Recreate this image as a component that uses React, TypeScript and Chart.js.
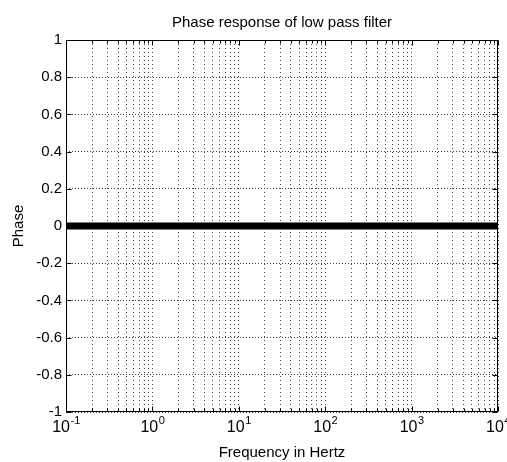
import { useEffect, useRef } from "react";
import { Chart, registerables } from "chart.js";

Chart.register(...registerables);

// ---- data ----
const frequencies = [0.1, 0.2, 0.5, 1, 2, 5, 10, 20, 50, 100, 200, 500, 1000, 2000, 5000, 10000];
const phases = [0, 0, 0, 0, 0, 0, 0, 0, 0, 0, 0, 0, 0, 0, 0, 0];

const xMajorTicks = [0.1, 1, 10, 100, 1000, 10000];
const xMajorExponents = ["-1", "0", "1", "2", "3", "4"];
const xMinorMultipliers = [2, 3, 4, 5, 6, 7, 8, 9];
const yTickValues = [-1, -0.8, -0.6, -0.4, -0.2, 0, 0.2, 0.4, 0.6, 0.8, 1];

const titleText = "Phase response of low pass filter";
const xLabel = "Frequency in Hertz";
const yLabel = "Phase";

const FONT = "'Liberation Sans', Arial, sans-serif";

const xMinorTicks: number[] = [];
xMajorTicks.slice(0, -1).forEach((d) => xMinorMultipliers.forEach((m) => xMinorTicks.push(d * m)));

const framePlugin = {
  id: "matlabFrame",
  afterLayout(chart: any) {
    const t = chart.titleBlock;
    if (t) {
      t.left = chart.chartArea.left;
      t.right = chart.chartArea.right;
    }
  },
  afterDraw(chart: any) {
    const { ctx, chartArea } = chart;
    const left = Math.round(chartArea.left) + 0.5;
    const right = Math.round(chartArea.right) - 0.5;
    const top = Math.round(chartArea.top) + 0.5;
    const bottom = Math.round(chartArea.bottom) - 0.5;
    const xs = chart.scales.x;
    const ys = chart.scales.y;
    ctx.save();
    ctx.strokeStyle = "#000";
    ctx.lineWidth = 1;
    ctx.setLineDash([]);
    ctx.strokeRect(left, top, right - left, bottom - top);
    ctx.beginPath();
    yTickValues.forEach((v) => {
      const py = Math.round(ys.getPixelForValue(v)) + 0.5;
      ctx.moveTo(left, py);
      ctx.lineTo(left + 5, py);
      ctx.moveTo(right, py);
      ctx.lineTo(right - 5, py);
    });
    const xt = (v: number, len: number) => {
      const px = Math.round(xs.getPixelForValue(v)) + 0.5;
      ctx.moveTo(px, bottom);
      ctx.lineTo(px, bottom - len);
      ctx.moveTo(px, top);
      ctx.lineTo(px, top + len);
    };
    xMajorTicks.forEach((v) => xt(v, 5));
    xMinorTicks.forEach((v) => xt(v, 3));
    ctx.stroke();

    // x tick labels 10^n
    ctx.fillStyle = "#000";
    ctx.textBaseline = "alphabetic";
    ctx.textAlign = "left";
    xMajorTicks.forEach((v, i) => {
      const px = xs.getPixelForValue(v);
      ctx.font = `16px ${FONT}`;
      const wBase = ctx.measureText("10").width;
      ctx.font = `11px ${FONT}`;
      const wExp = ctx.measureText(xMajorExponents[i]).width;
      const start = px - (wBase + wExp) / 2;
      ctx.font = `16px ${FONT}`;
      ctx.fillText("10", start, 432);
      ctx.font = `11px ${FONT}`;
      ctx.fillText(xMajorExponents[i], start + wBase + 0.5, 424);
    });
    ctx.restore();
  },
};

export default function App() {
  const ref = useRef<HTMLCanvasElement>(null);
  useEffect(() => {
    document.body.style.margin = "0";
    const canvas = ref.current!;
    const chart = new Chart(canvas, {
      type: "line",
      data: {
        datasets: [
          {
            data: frequencies.map((f, i) => ({ x: f, y: phases[i] })),
            borderColor: "#000",
            backgroundColor: "#000",
            borderWidth: 7,
            pointRadius: 0,
            fill: false,
            tension: 0,
          },
        ],
      },
      options: {
        animation: false,
        responsive: false,
        devicePixelRatio: 1,
        layout: { padding: { left: 0, right: 9, top: 0, bottom: 0 } },
        plugins: {
          legend: { display: false },
          tooltip: { enabled: false },
          title: {
            display: true,
            text: titleText,
            color: "#000",
            font: { family: FONT, size: 15, weight: "normal" },
            padding: { top: 14, bottom: 8 },
          },
        },
        scales: {
          x: {
            type: "logarithmic",
            min: 0.1,
            max: 10000,
            afterBuildTicks: (scale: any) => {
              scale.ticks = [...xMajorTicks, ...xMinorTicks]
                .sort((a, b) => a - b)
                .map((v) => ({ value: v, major: xMajorTicks.includes(v) }));
            },
            afterFit: (scale: any) => {
              scale.height = 50;
            },
            ticks: { display: false },
            grid: { color: "#444", lineWidth: 1, drawTicks: false },
            border: { display: false, dash: [1, 3] },
            title: {
              display: true,
              text: xLabel,
              color: "#000",
              font: { family: FONT, size: 15 },
              padding: { top: 0, bottom: 0 },
            },
          },
          y: {
            type: "linear",
            min: -1,
            max: 1,
            afterBuildTicks: (scale: any) => {
              scale.ticks = yTickValues.map((v) => ({ value: v }));
            },
            afterFit: (scale: any) => {
              scale.width = 66;
            },
            ticks: {
              color: "#000",
              font: { family: FONT, size: 15 },
              padding: 4,
              callback: (v: any) => String(Math.round(Number(v) * 10) / 10),
            },
            grid: { color: "#444", lineWidth: 1, drawTicks: false },
            border: { display: false, dash: [1, 2] },
            title: {
              display: true,
              text: yLabel,
              color: "#000",
              font: { family: FONT, size: 15 },
              padding: { top: 10, bottom: 0 },
            },
          },
        },
      },
      plugins: [framePlugin],
    });
    return () => chart.destroy();
  }, []);
  return <canvas ref={ref} width={507} height={462} style={{ display: "block" }} />;
}
